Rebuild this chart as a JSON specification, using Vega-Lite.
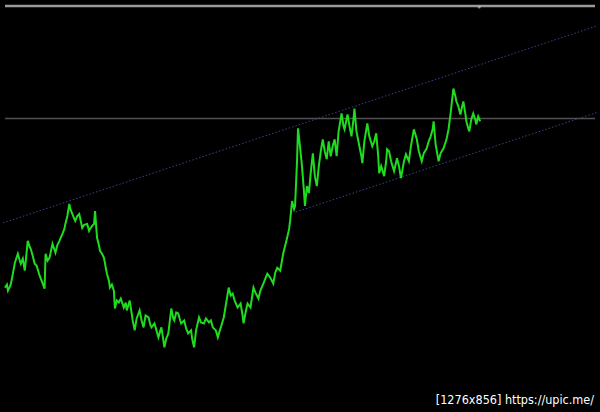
{
  "$schema": "https://vega.github.io/schema/vega-lite/v6.json",
  "width": 600,
  "height": 412,
  "autosize": {"type": "fit", "contains": "padding"},
  "padding": 0,
  "background": "#000000",
  "config": {"view": {"stroke": null}},
  "datasets": {
    "price": [
      {"t":2,"p":125},{"t":4,"p":128},{"t":5,"p":122},{"t":7,"p":126},{"t":8,"p":129},{"t":10,"p":139},{"t":12,"p":150},{"t":15,"p":159},{"t":17,"p":152},{"t":18,"p":149},{"t":20,"p":154},{"t":22,"p":142},{"t":24,"p":162},{"t":25,"p":172},{"t":27,"p":166},{"t":28,"p":164},{"t":30,"p":157},{"t":32,"p":149},{"t":34,"p":147},{"t":37,"p":137},{"t":39,"p":132},{"t":42,"p":124},{"t":43,"p":159},{"t":45,"p":152},{"t":47,"p":155},{"t":50,"p":169},{"t":52,"p":163},{"t":53,"p":160},{"t":55,"p":168},{"t":57,"p":172},{"t":60,"p":179},{"t":62,"p":184},{"t":63,"p":189},{"t":65,"p":197},{"t":67,"p":209},{"t":68,"p":204},{"t":70,"p":199},{"t":72,"p":194},{"t":73,"p":192},{"t":75,"p":197},{"t":77,"p":199},{"t":79,"p":190},{"t":80,"p":185},{"t":82,"p":188},{"t":85,"p":189},{"t":87,"p":182},{"t":88,"p":184},{"t":90,"p":187},{"t":92,"p":189},{"t":93,"p":202},{"t":95,"p":175},{"t":97,"p":167},{"t":98,"p":162},{"t":100,"p":159},{"t":102,"p":155},{"t":104,"p":144},{"t":105,"p":139},{"t":107,"p":132},{"t":108,"p":125},{"t":110,"p":128},{"t":112,"p":122},{"t":113,"p":104},{"t":115,"p":112},{"t":117,"p":110},{"t":119,"p":114},{"t":122,"p":105},{"t":124,"p":110},{"t":125,"p":102},{"t":128,"p":112},{"t":130,"p":99},{"t":131,"p":92},{"t":133,"p":82},{"t":135,"p":94},{"t":138,"p":102},{"t":140,"p":92},{"t":142,"p":85},{"t":144,"p":97},{"t":147,"p":95},{"t":149,"p":87},{"t":150,"p":85},{"t":153,"p":89},{"t":155,"p":82},{"t":157,"p":75},{"t":159,"p":82},{"t":160,"p":85},{"t":162,"p":72},{"t":163,"p":65},{"t":165,"p":74},{"t":167,"p":79},{"t":170,"p":104},{"t":172,"p":94},{"t":173,"p":92},{"t":175,"p":100},{"t":177,"p":99},{"t":179,"p":92},{"t":180,"p":89},{"t":183,"p":92},{"t":185,"p":84},{"t":187,"p":79},{"t":190,"p":82},{"t":191,"p":74},{"t":193,"p":65},{"t":195,"p":82},{"t":198,"p":95},{"t":200,"p":90},{"t":203,"p":89},{"t":205,"p":94},{"t":208,"p":90},{"t":210,"p":92},{"t":212,"p":85},{"t":215,"p":82},{"t":217,"p":75},{"t":219,"p":82},{"t":220,"p":85},{"t":223,"p":95},{"t":225,"p":107},{"t":228,"p":125},{"t":230,"p":117},{"t":232,"p":119},{"t":234,"p":112},{"t":237,"p":105},{"t":240,"p":109},{"t":242,"p":97},{"t":243,"p":89},{"t":245,"p":100},{"t":247,"p":109},{"t":250,"p":105},{"t":253,"p":125},{"t":255,"p":120},{"t":258,"p":114},{"t":260,"p":122},{"t":263,"p":129},{"t":265,"p":134},{"t":267,"p":139},{"t":270,"p":135},{"t":273,"p":129},{"t":275,"p":140},{"t":277,"p":145},{"t":280,"p":142},{"t":283,"p":159},{"t":285,"p":167},{"t":287,"p":175},{"t":289,"p":184},{"t":290,"p":192},{"t":292,"p":212},{"t":294,"p":204},{"t":295,"p":207},{"t":297,"p":252},{"t":298,"p":285},{"t":300,"p":267},{"t":302,"p":247},{"t":304,"p":222},{"t":305,"p":207},{"t":307,"p":227},{"t":309,"p":220},{"t":311,"p":242},{"t":313,"p":260},{"t":315,"p":237},{"t":317,"p":227},{"t":319,"p":247},{"t":321,"p":262},{"t":323,"p":274},{"t":325,"p":262},{"t":327,"p":254},{"t":329,"p":272},{"t":331,"p":257},{"t":333,"p":267},{"t":335,"p":274},{"t":337,"p":257},{"t":339,"p":282},{"t":342,"p":300},{"t":344,"p":287},{"t":345,"p":284},{"t":347,"p":294},{"t":348,"p":299},{"t":350,"p":287},{"t":352,"p":277},{"t":354,"p":294},{"t":355,"p":305},{"t":357,"p":282},{"t":360,"p":267},{"t":362,"p":257},{"t":363,"p":250},{"t":365,"p":272},{"t":368,"p":290},{"t":370,"p":277},{"t":373,"p":267},{"t":375,"p":272},{"t":377,"p":280},{"t":379,"p":257},{"t":380,"p":240},{"t":382,"p":247},{"t":385,"p":237},{"t":387,"p":252},{"t":388,"p":264},{"t":390,"p":262},{"t":392,"p":252},{"t":395,"p":242},{"t":398,"p":255},{"t":400,"p":247},{"t":402,"p":235},{"t":405,"p":252},{"t":407,"p":259},{"t":410,"p":252},{"t":412,"p":267},{"t":415,"p":284},{"t":418,"p":274},{"t":420,"p":262},{"t":423,"p":252},{"t":425,"p":260},{"t":428,"p":265},{"t":430,"p":272},{"t":432,"p":277},{"t":434,"p":284},{"t":435,"p":292},{"t":437,"p":269},{"t":440,"p":252},{"t":442,"p":260},{"t":445,"p":265},{"t":448,"p":274},{"t":450,"p":284},{"t":452,"p":299},{"t":454,"p":317},{"t":455,"p":325},{"t":457,"p":317},{"t":458,"p":312},{"t":460,"p":307},{"t":462,"p":299},{"t":464,"p":308},{"t":465,"p":312},{"t":467,"p":300},{"t":468,"p":292},{"t":470,"p":285},{"t":471,"p":282},{"t":473,"p":294},{"t":475,"p":300},{"t":477,"p":294},{"t":478,"p":289},{"t":480,"p":297},{"t":482,"p":292}
    ],
    "channel": [
      {"line":"upper","t":0,"p":190},{"line":"upper","t":600,"p":388},
      {"line":"lower","t":296,"p":201},{"line":"lower","t":600,"p":301}
    ],
    "levels": [
      {"level":"top","t":2,"p":408},{"level":"top","t":598,"p":408},
      {"level":"mid","t":2,"p":295},{"level":"mid","t":598,"p":295}
    ],
    "marker": [{"t":481,"p":407}],
    "label": [{"t":597,"p":12,"text":"[1276x856] https://upic.me/"}]
  },
  "encoding": {
    "x": {"field":"t","type":"quantitative","scale":{"domain":[0,600],"nice":false,"zero":false},"axis":null},
    "y": {"field":"p","type":"quantitative","scale":{"domain":[0,412],"nice":false,"zero":false},"axis":null}
  },
  "layer": [
    {
      "data": {"name":"levels"},
      "transform": [{"filter":"datum.level == 'top'"}],
      "mark": {"type":"line","color":"#9a9a9a","strokeWidth":2.5}
    },
    {
      "data": {"name":"levels"},
      "transform": [{"filter":"datum.level == 'mid'"}],
      "mark": {"type":"line","color":"#505050","strokeWidth":1.5}
    },
    {
      "data": {"name":"channel"},
      "mark": {"type":"line","color":"#3d4585","strokeWidth":1,"strokeDash":[1.5,2]},
      "encoding": {"detail":{"field":"line"}}
    },
    {
      "data": {"name":"price"},
      "mark": {"type":"line","color":"#1fdc1f","strokeWidth":2}
    },
    {
      "data": {"name":"marker"},
      "mark": {"type":"point","filled":true,"color":"#bbbbbb","size":10}
    },
    {
      "data": {"name":"label"},
      "mark": {"type":"text","align":"right","baseline":"middle","color":"#ffffff","font":"DejaVu Sans Condensed","fontSize":12.5},
      "encoding": {"text":{"field":"text"}}
    }
  ]
}
